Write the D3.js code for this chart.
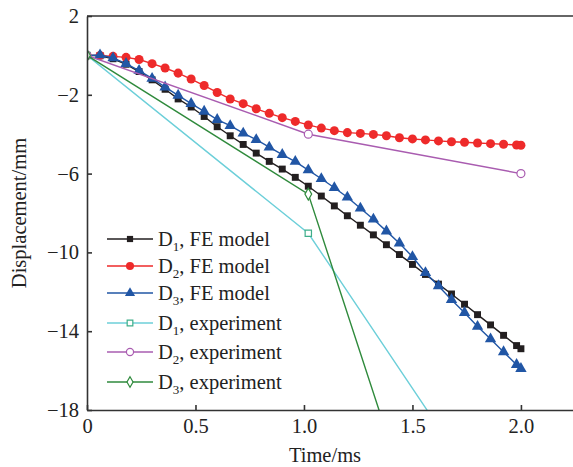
<!DOCTYPE html>
<html>
<head>
<meta charset="utf-8">
<script src="https://cdn.jsdelivr.net/npm/d3@7"></script>
<style>
  body { margin: 0; background: #fff; }
  svg { display: block; font-family: "Liberation Serif", "Times New Roman", serif; }
</style>
</head>
<body>
<div id="app"></div>
<script>
// time steps of the FE runs (ms)
const feTime = [0, 0.06, 0.12, 0.18, 0.24, 0.30, 0.36, 0.42, 0.48, 0.54, 0.60, 0.66, 0.72, 0.78, 0.84, 0.90, 0.96,
  1.02, 1.08, 1.14, 1.20, 1.26, 1.32, 1.38, 1.44, 1.50, 1.56, 1.62, 1.68, 1.74, 1.80, 1.86, 1.92, 1.98, 2.00]

// displacement (mm) from the FE model
const d1Model = [0, -0.02, -0.17, -0.45, -0.82, -1.24, -1.72, -2.21, -2.62, -3.10, -3.62, -4.08, -4.52, -4.96, -5.38, -5.77, -6.19,
  -6.64, -7.14, -7.64, -8.14, -8.62, -9.11, -9.61, -10.11, -10.61, -11.12, -11.61, -12.11, -12.63, -13.16, -13.68, -14.21, -14.73, -14.89]
const d2Model = [0, 0, -0.05, -0.10, -0.21, -0.42, -0.64, -0.90, -1.20, -1.53, -1.88, -2.21, -2.45, -2.71, -2.94, -3.16, -3.35,
  -3.53, -3.69, -3.82, -3.92, -3.96, -4.01, -4.08, -4.18, -4.24, -4.29, -4.34, -4.38, -4.41, -4.45, -4.48, -4.51, -4.55, -4.56]
const d3Model = [0, 0.02, -0.13, -0.42, -0.77, -1.17, -1.61, -2.03, -2.45, -2.84, -3.26, -3.57, -3.95, -4.28, -4.66, -5.04, -5.39,
  -5.82, -6.26, -6.72, -7.20, -7.76, -8.32, -8.92, -9.53, -10.22, -11.03, -11.70, -12.40, -13.06, -13.76, -14.40, -15.05, -15.70, -15.90]

// measured displacement (mm)
const expTime = [0, 1.02, 2.0]
const d1Exp = [0, -9.03, -25.1]
const d2Exp = [0, -4.0, -6.0]
const d3Exp = [0, -7.04, -40]

const xTicks = [0, 0.5, 1.0, 1.5, 2.0]
const yTicks = [2, -2, -6, -10, -14, -18]

const series = [
  { name: 'D', sub: '1', rest: ', FE model', t: feTime, v: d1Model, color: '#231f20', symbol: d3.symbolSquare, size: 48, fill: '#231f20', stroke: 'none' },
  { name: 'D', sub: '2', rest: ', FE model', t: feTime, v: d2Model, color: '#ee2a2a', symbol: d3.symbolCircle, size: 64, fill: '#ee2a2a', stroke: 'none' },
  { name: 'D', sub: '3', rest: ', FE model', t: feTime, v: d3Model, color: '#2156a5', symbol: d3.symbolTriangle, size: 56, fill: '#2156a5', stroke: 'none' },
  { name: 'D', sub: '1', rest: ', experiment', t: expTime, v: d1Exp, color: '#6ccfd9', symbol: d3.symbolSquare, size: 40, fill: '#fff', stroke: '#3fae8a' },
  { name: 'D', sub: '2', rest: ', experiment', t: expTime, v: d2Exp, color: '#a95cb0', symbol: d3.symbolCircle, size: 50, fill: '#fff', stroke: '#a95cb0' },
  { name: 'D', sub: '3', rest: ', experiment', t: expTime, v: d3Exp, color: '#2f8a3c', symbol: d3.symbolDiamond, size: 40, fill: '#fff', stroke: '#2f8a3c' }
]

const width = 573, height = 467
const margin = { top: 16, right: 0, bottom: 57, left: 87 }

const svg = d3.select('#app').append('svg')
  .attr('width', width)
  .attr('height', height)

const x = d3.scaleLinear().domain([0, 2.24]).range([margin.left, width - margin.right])
const y = d3.scaleLinear().domain([-18, 2]).range([height - margin.bottom, margin.top])

svg.append('clipPath')
  .attr('id', 'plot-clip')
  .append('rect')
  .attr('x', margin.left)
  .attr('y', margin.top)
  .attr('width', width - margin.left - margin.right)
  .attr('height', height - margin.top - margin.bottom)

let line = d3.line()
  .x(d => x(d[0]))
  .y(d => y(d[1]))

const lines = svg.append('g').attr('clip-path', 'url(#plot-clip)')

series.forEach(s => {
  let pts = s.t.map((t, i) => [t, s.v[i]])
  lines.append('path')
    .attr('d', line(pts))
    .attr('fill', 'none')
    .attr('stroke', s.color)
    .attr('stroke-width', 1.4)

  lines.selectAll(null)
    .data(pts.filter(p => p[1] >= -18))
    .enter()
    .append('path')
    .attr('d', d3.symbol().type(s.symbol).size(s.size))
    .attr('transform', p => `translate(${x(p[0])},${y(p[1])})`)
    .attr('fill', s.fill)
    .attr('stroke', s.stroke)
    .attr('stroke-width', 1.2)
})

// axes: ticks point into the plot
const xAxis = svg.append('g')
  .attr('transform', `translate(0,${y(-18)})`)
  .call(d3.axisBottom(x).tickValues(xTicks).tickSizeInner(-5).tickSizeOuter(0).tickPadding(8)
    .tickFormat(d => d === 0 ? '0' : d.toFixed(1)))

const yAxis = svg.append('g')
  .attr('transform', `translate(${margin.left},0)`)
  .call(d3.axisLeft(y).tickValues(yTicks).tickSizeInner(-5).tickSizeOuter(0).tickPadding(8))

;[xAxis, yAxis].forEach(g => {
  g.selectAll('path, line').attr('stroke', '#333').attr('stroke-width', 1.6)
  g.selectAll('text').attr('fill', '#222').style('font-size', '20.5px').style('font-family', '"Liberation Serif", serif')
})

// top border
svg.append('line')
  .attr('x1', margin.left)
  .attr('x2', width)
  .attr('y1', y(2))
  .attr('y2', y(2))
  .attr('stroke', '#333')
  .attr('stroke-width', 1.6)

svg.append('text')
  .attr('x', 325)
  .attr('y', 462)
  .attr('text-anchor', 'middle')
  .attr('fill', '#222')
  .style('font-size', '20.5px')
  .text('Time/ms')

svg.append('text')
  .attr('transform', `translate(26,${(y(2) + y(-18)) / 2}) rotate(-90)`)
  .attr('text-anchor', 'middle')
  .attr('fill', '#222')
  .style('font-size', '20.5px')
  .text('Displacement/mm')

// legend
const legendRows = [239, 266, 293, 323, 352, 382]
const legend = svg.append('g')

series.forEach((s, i) => {
  let ly = legendRows[i]
  legend.append('line')
    .attr('x1', 107).attr('x2', 153)
    .attr('y1', ly).attr('y2', ly)
    .attr('stroke', s.color)
    .attr('stroke-width', 1.6)
  legend.append('path')
    .attr('d', d3.symbol().type(s.symbol).size(s.size * 0.8))
    .attr('transform', `translate(130,${ly})`)
    .attr('fill', s.fill)
    .attr('stroke', s.stroke)
    .attr('stroke-width', 1.2)

  let label = legend.append('text')
    .attr('x', 158)
    .attr('y', ly + 7)
    .attr('fill', '#222')
    .style('font-size', '20.5px')
  label.append('tspan').text(s.name)
  label.append('tspan').attr('dy', 5).style('font-size', '13px').text(s.sub)
  label.append('tspan').attr('dy', -5).text(s.rest)
})
</script>
</body>
</html>
